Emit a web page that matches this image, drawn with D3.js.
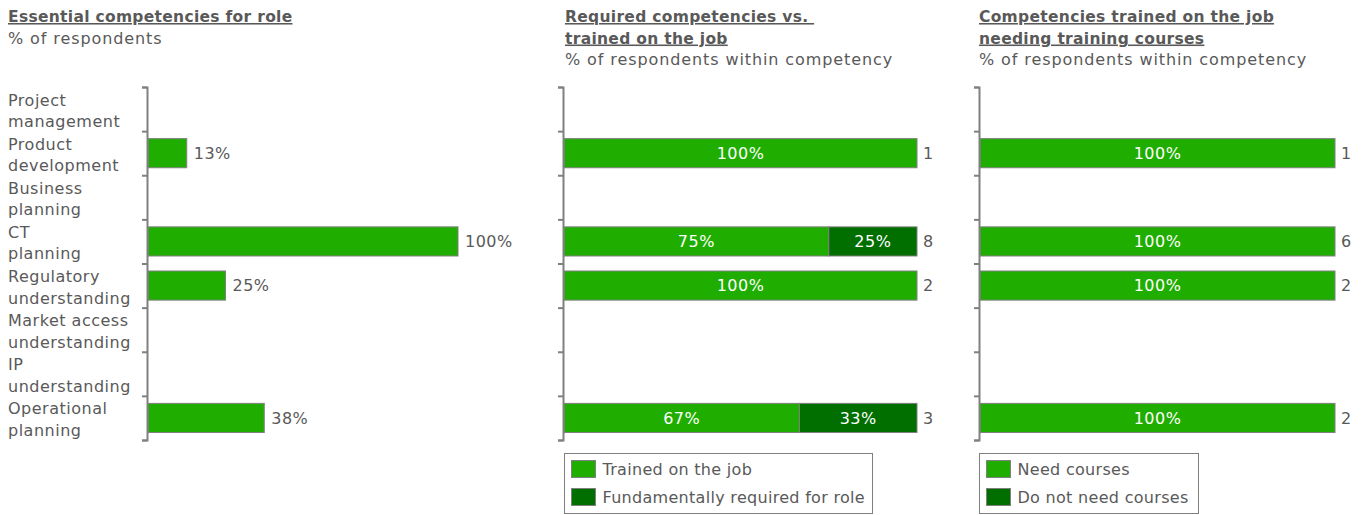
<!DOCTYPE html>
<html><head><meta charset="utf-8">
<script src="https://cdn.jsdelivr.net/npm/d3@7"></script>
<style>
body{margin:0;background:#fff;}
svg text{font-family:"DejaVu Sans",sans-serif;fill:#595959;}
</style></head><body>
<svg id="c" width="1365" height="515"></svg>
<script>
const categories = [
  ["Project","management"],
  ["Product","development"],
  ["Business","planning"],
  ["CT","planning"],
  ["Regulatory","understanding"],
  ["Market access","understanding"],
  ["IP","understanding"],
  ["Operational","planning"]
];
const essentialPct = [null, 12.5, null, 100, 25, null, null, 37.5];
const trainedPct   = [null, 100, null, 75, 100, null, null, 66.7];
const requiredPct  = [null, 0, null, 25, 0, null, null, 33.3];
const requiredN    = [null, 1, null, 8, 2, null, null, 3];
const needPct      = [null, 100, null, 100, 100, null, null, 100];
const noNeedPct    = [null, 0, null, 0, 0, null, null, 0];
const trainedN     = [null, 1, null, 6, 2, null, null, 2];
const titles = [
  ["Essential competencies for role"],
  ["Required competencies vs. ","trained on the job"],
  ["Competencies trained on the job","needing training courses"]
];
const subtitles = ["% of respondents","% of respondents within competency","% of respondents within competency"];
const legend2 = ["Trained on the job","Fundamentally required for role"];
const legend3 = ["Need courses","Do not need courses"];

const LIGHT="#1fae00", DARK="#006f00", GREY="#808080", TXT="#595959";
const svg = d3.select("#c");
const idx = d3.range(categories.length);
const y = d3.scaleBand().domain(idx).range([87,440]).paddingInner(0.34).paddingOuter(0.17);
const yEdge = d3.scaleLinear().domain([0,categories.length]).range([87,440]);
const LS = "0.9px";

function titleBlock(x, lines, sub){
  const g = svg.append("g");
  lines.forEach((t,i)=>{
    g.append("text").attr("x",x).attr("y",22+i*21.5)
      .style("font-weight","bold").style("font-size","15.5px")
      .style("text-decoration","underline").style("white-space","pre")
      .style("letter-spacing","0.3px").text(t);
  });
  g.append("text").attr("x",x).attr("y",22+lines.length*21.5)
    .style("font-size","16px").style("letter-spacing",LS).text(sub);
}
function axis(x){
  const g = svg.append("g").attr("transform",`translate(${x},0)`)
    .call(d3.axisLeft(yEdge).tickValues(d3.range(0,categories.length+1)).tickSize(5).tickSizeOuter(5).tickFormat(""));
  g.selectAll("path,line").attr("stroke",GREY).attr("stroke-width",2);
}

// Panel 1
titleBlock(8, titles[0], subtitles[0]);
const cat = svg.append("g");
idx.forEach(i=>{
  const c = y(i)+y.bandwidth()/2;
  const t = cat.append("text").attr("x",8).style("font-size","16px").style("letter-spacing","0.5px");
  t.append("tspan").attr("x",8).attr("y",c-3.5).text(categories[i][0]);
  t.append("tspan").attr("x",8).attr("y",c+18).text(categories[i][1]);
});
const x1 = d3.scaleLinear().domain([0,100]).range([148,458]);
const d1 = idx.filter(i=>essentialPct[i]!=null);
svg.append("g").selectAll("rect").data(d1).join("rect")
  .attr("x",x1(0)).attr("y",i=>y(i)).attr("width",i=>x1(essentialPct[i])-x1(0)).attr("height",y.bandwidth())
  .attr("fill",LIGHT).attr("stroke",GREY).attr("stroke-width",1);
svg.append("g").selectAll("text").data(d1).join("text")
  .attr("x",i=>x1(essentialPct[i])+7).attr("y",i=>y(i)+y.bandwidth()/2).attr("dy","0.36em")
  .style("font-size","16px").style("letter-spacing","0.5px").text(i=>Math.round(essentialPct[i])+"%");
axis(147);

function stackedPanel(x0,x100,axisX,tx,title,sub,a,b,n,leg,legBox){
  titleBlock(tx,title,sub);
  const xs = d3.scaleLinear().domain([0,100]).range([x0,x100]);
  const d = idx.filter(i=>a[i]!=null);
  const segs = [];
  d.forEach(i=>{
    if(a[i]>0) segs.push({i,s:0,e:a[i],c:LIGHT});
    if(b[i]>0) segs.push({i,s:a[i],e:a[i]+b[i],c:DARK});
  });
  const g = svg.append("g");
  g.selectAll("rect").data(segs).join("rect")
    .attr("x",s=>xs(s.s)).attr("y",s=>y(s.i)).attr("width",s=>xs(s.e)-xs(s.s)).attr("height",y.bandwidth())
    .attr("fill",s=>s.c).attr("stroke",GREY).attr("stroke-width",1);
  g.selectAll("text.in").data(segs).join("text").attr("class","in")
    .attr("x",s=>(xs(s.s)+xs(s.e))/2).attr("y",s=>y(s.i)+y.bandwidth()/2).attr("dy","0.36em")
    .attr("text-anchor","middle").style("fill","#fff").style("font-size","16px").style("letter-spacing","0.5px")
    .text(s=>Math.round(s.e-s.s)+"%");
  g.selectAll("text.n").data(d).join("text").attr("class","n")
    .attr("x",xs(100)+6).attr("y",i=>y(i)+y.bandwidth()/2).attr("dy","0.36em")
    .style("font-size","16px").text(i=>n[i]);
  axis(axisX);
  const lg = svg.append("g");
  lg.append("rect").attr("x",legBox[0]).attr("y",453.5).attr("width",legBox[1]-legBox[0]).attr("height",60)
    .attr("fill","#fff").attr("stroke",GREY).attr("stroke-width",1);
  [LIGHT,DARK].forEach((c,k)=>{
    lg.append("rect").attr("x",legBox[0]+7).attr("y",460.5+k*28).attr("width",24).attr("height",17)
      .attr("fill",c).attr("stroke",GREY).attr("stroke-width",1);
    lg.append("text").attr("x",legBox[0]+38).attr("y",469+k*28).attr("dy","0.36em")
      .style("font-size","16px").style("letter-spacing","0.3px").text(leg[k]);
  });
}
stackedPanel(564,917,563,565,titles[1],subtitles[1],trainedPct,requiredPct,requiredN,legend2,[564.5,872.5]);
stackedPanel(980,1335,979,979,titles[2],subtitles[2],needPct,noNeedPct,trainedN,legend3,[979.5,1198.5]);
</script>
</body></html>
